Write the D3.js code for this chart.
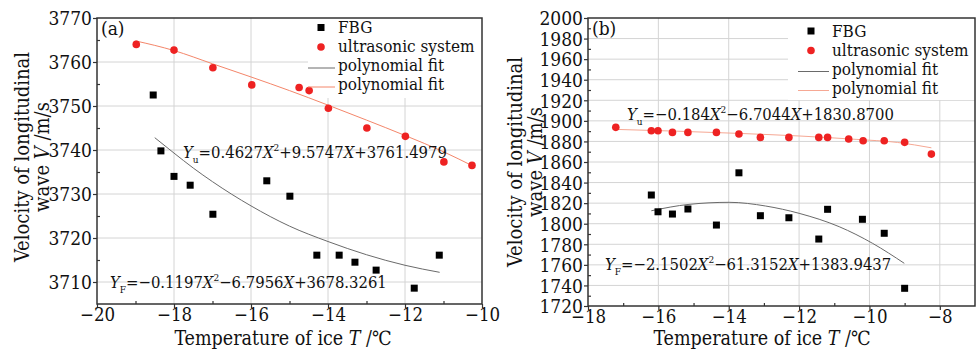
<!DOCTYPE html>
<html>
<head>
<meta charset="utf-8">
<script src="https://cdn.jsdelivr.net/npm/d3@7"></script>
<style>
  body { margin: 0; background: #fff; }
  svg text { font-family: "DejaVu Serif Condensed", "DejaVu Serif", serif; font-stretch: condensed; fill: #111; }
</style>
</head>
<body>
<div class="chart"></div>
<script>
// ---- panel (a) ----
var fbgTempA = [-18.54, -18.34, -18.0, -17.58, -16.99, -15.59, -14.99, -14.29, -13.71, -13.30, -12.75, -11.76, -11.11];
var fbgVelA  = [3752.5, 3739.8, 3734.0, 3732.0, 3725.4, 3733.0, 3729.5, 3716.1, 3716.1, 3714.5, 3712.7, 3708.6, 3716.1];
var usTempA  = [-18.98, -18.0, -16.99, -15.98, -14.75, -14.49, -13.99, -12.99, -11.99, -10.99, -10.26];
var usVelA   = [3764.0, 3762.7, 3758.7, 3754.8, 3754.2, 3753.5, 3749.5, 3745.0, 3743.1, 3737.3, 3736.5];
var fitFbgTempA = [-18.5, -18, -17.5, -17, -16, -15, -14, -13, -12, -11.1];
var fitFbgVelA  = [3742.8, 3739.3, 3735.9, 3732.8, 3727.3, 3722.7, 3719.2, 3716.2, 3713.8, 3712.2];
var fitUsTempA  = [-19, -18, -17, -16, -15, -14, -13, -12, -11, -10.2];
var fitUsVelA   = [3764.8, 3762.6, 3759.6, 3756.6, 3753.5, 3750.2, 3746.8, 3743.3, 3739.6, 3736.2];
var xTicksA = [-20, -18, -16, -14, -12, -10];
var yTicksA = [3710, 3720, 3730, 3740, 3750, 3760, 3770];

// ---- panel (b) ----
var fbgTempB = [-16.20, -16.01, -15.60, -15.16, -14.35, -13.71, -13.10, -12.29, -11.44, -11.19, -10.20, -9.58, -9.00];
var fbgVelB  = [1827.9, 1811.6, 1809.4, 1814.3, 1798.7, 1849.5, 1807.8, 1805.8, 1785.1, 1814.0, 1804.3, 1790.7, 1737.2];
var usTempB  = [-17.21, -16.20, -16.01, -15.60, -15.16, -14.35, -13.71, -13.10, -12.29, -11.44, -11.19, -10.59, -10.18, -9.58, -9.00, -8.24];
var usVelB   = [1893.7, 1890.4, 1890.4, 1888.8, 1888.8, 1888.8, 1887.2, 1883.9, 1883.9, 1883.9, 1883.9, 1882.3, 1880.6, 1880.6, 1879.1, 1867.7];
var fitFbgTempB = [-16.2, -15.13, -13.99, -12.95, -12, -10.86, -9.91, -9.01];
var fitFbgVelB  = [1812.6, 1818.8, 1820.8, 1817.2, 1810.1, 1797.1, 1780.9, 1761.5];
var fitUsTempB  = [-17.21, -15.5, -13.71, -12, -10.38, -9.2, -8.24];
var fitUsVelB   = [1891.7, 1890.0, 1887.8, 1885.3, 1882.0, 1879.0, 1873.8];
var xTicksB = [-18, -16, -14, -12, -10, -8];
var yTicksB = [1720, 1740, 1760, 1780, 1800, 1820, 1840, 1860, 1880, 1900, 1920, 1940, 1960, 1980, 2000];

var legendLabels = ["FBG", "ultrasonic system", "polynomial fit", "polynomial fit"];

var svg = d3.select(".chart").append("svg")
  .attr("width", 976)
  .attr("height", 349);

function drawPanel(p) {
  var x = d3.scaleLinear().domain(p.xDomain).range([p.left, p.right]);
  var y = d3.scaleLinear().domain(p.yDomain).range([p.bottom, p.top]);
  var g = svg.append("g");

  // grid
  g.selectAll(".gx").data(p.xTicks.filter(function(d) { return d > p.xDomain[0] && d < p.xDomain[1]; }))
    .enter().append("line")
    .attr("x1", function(d) { return x(d); }).attr("x2", function(d) { return x(d); })
    .attr("y1", p.top).attr("y2", p.bottom)
    .attr("stroke", "#d4d4d4").attr("stroke-width", 1);
  g.selectAll(".gy").data(p.yTicks.filter(function(d) { return d > p.yDomain[0] && d < p.yDomain[1]; }))
    .enter().append("line")
    .attr("y1", function(d) { return y(d); }).attr("y2", function(d) { return y(d); })
    .attr("x1", p.left).attr("x2", p.right)
    .attr("stroke", "#d4d4d4").attr("stroke-width", 1);

  // legend box hides the grid
  g.append("rect")
    .attr("x", p.legX).attr("y", p.top)
    .attr("width", p.right - p.legX).attr("height", p.legH)
    .attr("fill", "#fff");

  // fit lines
  var line = d3.line()
    .x(function(d) { return x(d[0]); })
    .y(function(d) { return y(d[1]); })
    .curve(d3.curveMonotoneX);
  g.append("path")
    .attr("d", line(d3.zip(p.fitFbgT, p.fitFbgV)))
    .attr("fill", "none").attr("stroke", "#6a6a6a").attr("stroke-width", 1);
  g.append("path")
    .attr("d", line(d3.zip(p.fitUsT, p.fitUsV)))
    .attr("fill", "none").attr("stroke", p.fitColor).attr("stroke-width", 1);

  // points
  g.selectAll(".sq").data(d3.zip(p.fbgT, p.fbgV)).enter().append("rect")
    .attr("x", function(d) { return x(d[0]) - 3.5; })
    .attr("y", function(d) { return y(d[1]) - 3.5; })
    .attr("width", 7).attr("height", 7)
    .attr("fill", "#000");
  g.selectAll(".ci").data(d3.zip(p.usT, p.usV)).enter().append("circle")
    .attr("cx", function(d) { return x(d[0]); })
    .attr("cy", function(d) { return y(d[1]); })
    .attr("r", 3.8)
    .attr("fill", "#ee2222");

  // axes
  var fmt = d3.format("d");
  var xAxis = g.append("g")
    .attr("transform", "translate(0," + p.bottom + ")")
    .call(d3.axisBottom(x).tickValues(p.xTicks).tickFormat(fmt).tickSize(4).tickPadding(0));
  g.append("g")
    .attr("transform", "translate(0," + p.bottom + ")")
    .call(d3.axisBottom(x).tickValues(p.xMinor).tickSize(-3).tickFormat(""));
  var yAxis = g.append("g")
    .attr("transform", "translate(" + p.left + ",0)")
    .call(d3.axisLeft(y).tickValues(p.yTicks).tickFormat(fmt).tickSize(4).tickPadding(1));
  g.append("g")
    .attr("transform", "translate(" + p.left + ",0)")
    .call(d3.axisLeft(y).tickValues(p.yMinor).tickSize(-3).tickFormat(""));
  g.selectAll(".domain").remove();
  g.selectAll(".tick line").attr("stroke", "#333").attr("stroke-width", 1.2);
  xAxis.selectAll("text").attr("font-size", 18.5).attr("fill", "#111");
  yAxis.selectAll("text").attr("font-size", 19).attr("fill", "#111").attr("dy", "0.36em");

  g.append("rect")
    .attr("x", p.left).attr("y", p.top)
    .attr("width", p.right - p.left).attr("height", p.bottom - p.top)
    .attr("fill", "none").attr("stroke", "#333").attr("stroke-width", 1.5);

  // panel label
  g.append("text").attr("x", p.left + 4).attr("y", p.top + 17)
    .attr("font-size", 19).text(p.name);

  // legend entries
  var rows = p.legRows;
  g.append("rect").attr("x", p.legSym - 3.5).attr("y", rows[0] - 9).attr("width", 7).attr("height", 7).attr("fill", "#000");
  g.append("circle").attr("cx", p.legSym).attr("cy", rows[1] - 5).attr("r", 3.8).attr("fill", "#ee2222");
  g.append("line").attr("x1", p.legSym - 13).attr("x2", p.legText - 3)
    .attr("y1", rows[2] - 3).attr("y2", rows[2] - 3).attr("stroke", "#6a6a6a");
  g.append("line").attr("x1", p.legSym - 13).attr("x2", p.legText - 3)
    .attr("y1", rows[3] - 3).attr("y2", rows[3] - 3).attr("stroke", p.fitColor);
  g.selectAll(".lt").data(legendLabels).enter().append("text")
    .attr("x", p.legText)
    .attr("y", function(d, i) { return rows[i]; })
    .attr("font-size", 17)
    .text(function(d) { return d; });

  // equations
  p.eqs.forEach(function(e) {
    var t = g.append("text").attr("x", e.x).attr("y", e.y).attr("font-size", 16.5);
    t.append("tspan").attr("font-style", "italic").text("Y");
    t.append("tspan").attr("font-size", 10).attr("dy", 5).text(e.sub);
    t.append("tspan").attr("dy", -5).text(e.parts[0]);
    t.append("tspan").attr("font-style", "italic").text("X");
    t.append("tspan").attr("font-size", 10).attr("dy", -7).text("2");
    t.append("tspan").attr("dy", 7).text(e.parts[1]);
    t.append("tspan").attr("font-style", "italic").text("X");
    t.append("tspan").text(e.parts[2]);
  });

  // axis titles
  var xt = g.append("text").attr("x", p.xTitleX).attr("y", 345)
    .attr("font-size", 19.5).attr("text-anchor", "middle");
  xt.append("tspan").text("Temperature of ice ");
  xt.append("tspan").attr("font-style", "italic").text("T");
  xt.append("tspan").text(" /\u2103");

  var yt = g.append("text")
    .attr("transform", "translate(" + p.yTitleX + "," + p.yTitleY + ") rotate(-90)")
    .attr("font-size", 20).attr("text-anchor", "middle");
  yt.append("tspan").attr("x", 0).attr("y", 0).text("Velocity of longitudinal");
  var l2 = yt.append("tspan").attr("x", 0).attr("y", 20);
  l2.text("wave ");
  yt.append("tspan").attr("font-style", "italic").text("V");
  yt.append("tspan").text(" /m/s");
}

drawPanel({
  name: "(a)",
  xDomain: [-20, -10], yDomain: [3705, 3770],
  left: 97, right: 482, top: 18, bottom: 304,
  xTicks: xTicksA, yTicks: yTicksA,
  xMinor: [-19, -17, -15, -13, -11],
  yMinor: [3715, 3725, 3735, 3745, 3755, 3765],
  fbgT: fbgTempA, fbgV: fbgVelA, usT: usTempA, usV: usVelA,
  fitFbgT: fitFbgTempA, fitFbgV: fitFbgVelA, fitUsT: fitUsTempA, fitUsV: fitUsVelA,
  fitColor: "#f4866a",
  legX: 308, legH: 80, legSym: 321, legText: 338, legRows: [33, 52, 71, 90],
  eqs: [
    { x: 183, y: 158, sub: "u", parts: ["=0.4627", "+9.5747", "+3761.4979"] },
    { x: 110, y: 288, sub: "F", parts: ["=\u22120.1197", "\u22126.7956", "+3678.3261"] }
  ],
  xTitleX: 283, yTitleX: 29, yTitleY: 157
});

drawPanel({
  name: "(b)",
  xDomain: [-18, -7], yDomain: [1720, 2000],
  left: 588, right: 975, top: 18, bottom: 306,
  xTicks: xTicksB, yTicks: yTicksB,
  xMinor: [-17, -15, -13, -11, -9],
  yMinor: d3.range(1730, 2000, 20),
  fbgT: fbgTempB, fbgV: fbgVelB, usT: usTempB, usV: usVelB,
  fitFbgT: fitFbgTempB, fitFbgV: fitFbgVelB, fitUsT: fitUsTempB, fitUsV: fitUsVelB,
  fitColor: "#f6a894",
  legX: 788, legH: 82, legSym: 811, legText: 832, legRows: [36.5, 55.5, 74.5, 93.5],
  eqs: [
    { x: 627, y: 120, sub: "u", parts: ["=\u22120.184", "\u22126.7044", "+1830.8700"] },
    { x: 605, y: 270, sub: "F", parts: ["=\u22122.1502", "\u221261.3152", "+1383.9437"] }
  ],
  xTitleX: 762, yTitleX: 522, yTitleY: 162
});
</script>
</body>
</html>
